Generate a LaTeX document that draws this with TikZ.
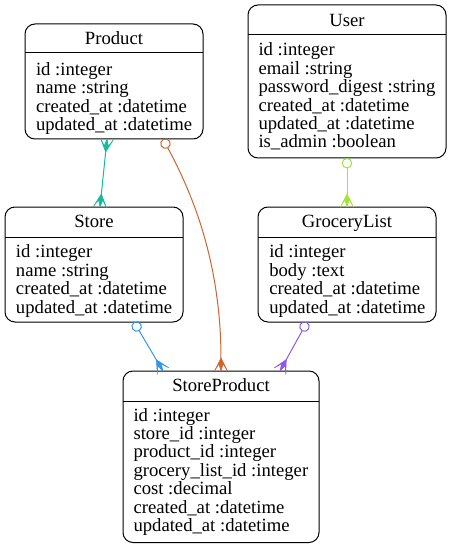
\documentclass[tikz,border=0pt]{standalone}
\usepackage{fontspec}
\setmainfont{Liberation Serif}
\usetikzlibrary{arrows.meta}
\definecolor{eteal}{RGB}{24,186,158}
\definecolor{eorange}{RGB}{204,102,48}
\definecolor{elime}{RGB}{164,226,64}
\definecolor{eblue}{RGB}{52,150,230}
\definecolor{epurple}{RGB}{140,90,230}
\pgfdeclarearrow{
  name = Crowfoot,
  parameters = {\the\pgfarrowlength,\the\pgfarrowwidth},
  setup code = {
    \pgfarrowssettipend{0pt}
    \pgfarrowssetbackend{-\pgfarrowlength}
    \pgfarrowssetlineend{-0.9\pgfarrowlength}
    \pgfarrowssavethe\pgfarrowlength
    \pgfarrowssavethe\pgfarrowwidth
  },
  drawing code = {
    \pgfsetroundjoin
    \pgfsetlinewidth{0.6pt}
    \pgfpathmoveto{\pgfqpoint{-\pgfarrowlength}{0pt}}
    \pgfpathlineto{\pgfqpoint{0pt}{0.5\pgfarrowwidth}}
    \pgfpathlineto{\pgfqpoint{-0.55\pgfarrowlength}{0.16\pgfarrowwidth}}
    \pgfpathlineto{\pgfqpoint{0pt}{0pt}}
    \pgfpathlineto{\pgfqpoint{-0.55\pgfarrowlength}{-0.16\pgfarrowwidth}}
    \pgfpathlineto{\pgfqpoint{0pt}{-0.5\pgfarrowwidth}}
    \pgfpathclose
    \pgfusepathqfillstroke
  },
  defaults = {length=13pt, width=13pt}
}
\tikzset{
  ebox/.style={draw=black, line width=1pt, rounded corners=10pt, outer sep=0pt, inner sep=0pt},
  hline/.style={line width=1pt, draw=black},
  fld/.style={anchor=base west, inner sep=0pt, outer sep=0pt, font=\fontsize{18.67}{22}\selectfont},
  ttl/.style={anchor=base, inner sep=0pt, outer sep=0pt, font=\fontsize{18.67}{22}\selectfont},
  edge/.style={line width=1pt},
  crow/.tip={Crowfoot[length=13pt, width=13pt]},
  odot/.tip={Circle[open, length=10.5pt, width=10.5pt]},
}
\begin{document}
\begin{tikzpicture}[x=1pt,y=-1pt]
\useasboundingbox (0,0) rectangle (452,548);
% Product
\node[ebox, minimum width=178pt, minimum height=115pt] (product) at (114,81.5) {};
\draw[hline] (product.north west) ++(0,29) coordinate (producthl) -- (producthl -| product.east);
\node[ttl] (product-t) at (114,45) {Product};
\foreach \t [count=\i] in {id :integer, name :string, created\_at :datetime, updated\_at :datetime}
  \node[fld] (product-\i) at (36,{75.3+18.4*(\i-1)}) {\t};
% User
\node[ebox, minimum width=198pt, minimum height=153pt] (user) at (347,81.5) {};
\draw[hline] (user.north west) ++(0,29.5) coordinate (userhl) -- (userhl -| user.east);
\node[ttl] (user-t) at (347,27) {User};
\foreach \t [count=\i] in {id :integer, email :string, password\_digest :string, created\_at :datetime, updated\_at :datetime, is\_admin :boolean}
  \node[fld] (user-\i) at (258.5,{56+18.4*(\i-1)}) {\t};
% Store
\node[ebox, minimum width=178pt, minimum height=115pt] (store) at (94,264.5) {};
\draw[hline] (store.north west) ++(0,30) coordinate (storehl) -- (storehl -| store.east);
\node[ttl] (store-t) at (94,227.5) {Store};
\foreach \t [count=\i] in {id :integer, name :string, created\_at :datetime, updated\_at :datetime}
  \node[fld] (store-\i) at (16,{257.8+18.4*(\i-1)}) {\t};
% GroceryList
\node[ebox, minimum width=178pt, minimum height=115pt] (grocery) at (347,264.5) {};
\draw[hline] (grocery.north west) ++(0,30) coordinate (groceryhl) -- (groceryhl -| grocery.east);
\node[ttl] (grocery-t) at (347,227.5) {GroceryList};
\foreach \t [count=\i] in {id :integer, body :text, created\_at :datetime, updated\_at :datetime}
  \node[fld] (grocery-\i) at (269.3,{257.8+18.4*(\i-1)}) {\t};
% StoreProduct
\node[ebox, minimum width=196pt, minimum height=171.5pt] (sp) at (221,456.75) {};
\draw[hline] (sp.north west) ++(0,30) coordinate (sphl) -- (sphl -| sp.east);
\node[ttl] (sp-t) at (221,391.7) {StoreProduct};
\foreach \t [count=\i] in {id :integer, store\_id :integer, product\_id :integer, grocery\_list\_id :integer, cost :decimal, created\_at :datetime, updated\_at :datetime}
  \node[fld] (sp-\i) at (133.5,{421+18.45*(\i-1)}) {\t};
% connector end points
\coordinate (e1a) at ([xshift=-7pt]product.south);
\coordinate (e1b) at ([xshift=6pt]store.north);
\coordinate (e2a) at ([xshift=49pt]product.south);
\coordinate (e2b) at (sp.north);
\coordinate (e3a) at (user.south);
\coordinate (e3b) at (grocery.north);
\coordinate (e4a) at ([xshift=40pt]store.south);
\coordinate (e4b) at ([xshift=-58pt]sp.north);
\coordinate (e5a) at ([xshift=-40pt]grocery.south);
\coordinate (e5b) at ([xshift=59pt]sp.north);
% connectors
\draw[edge, eteal, crow-crow] (e1a) -- (e1b);
\draw[edge, eorange, odot-crow] (e2a) .. controls +(28,52) and +(0,-111) .. (e2b);
\draw[edge, elime, odot-crow] (e3a) -- (e3b);
\draw[edge, eblue, odot-crow] (e4a) -- (e4b);
\draw[edge, epurple, odot-crow] (e5a) -- (e5b);
\end{tikzpicture}
\end{document}
